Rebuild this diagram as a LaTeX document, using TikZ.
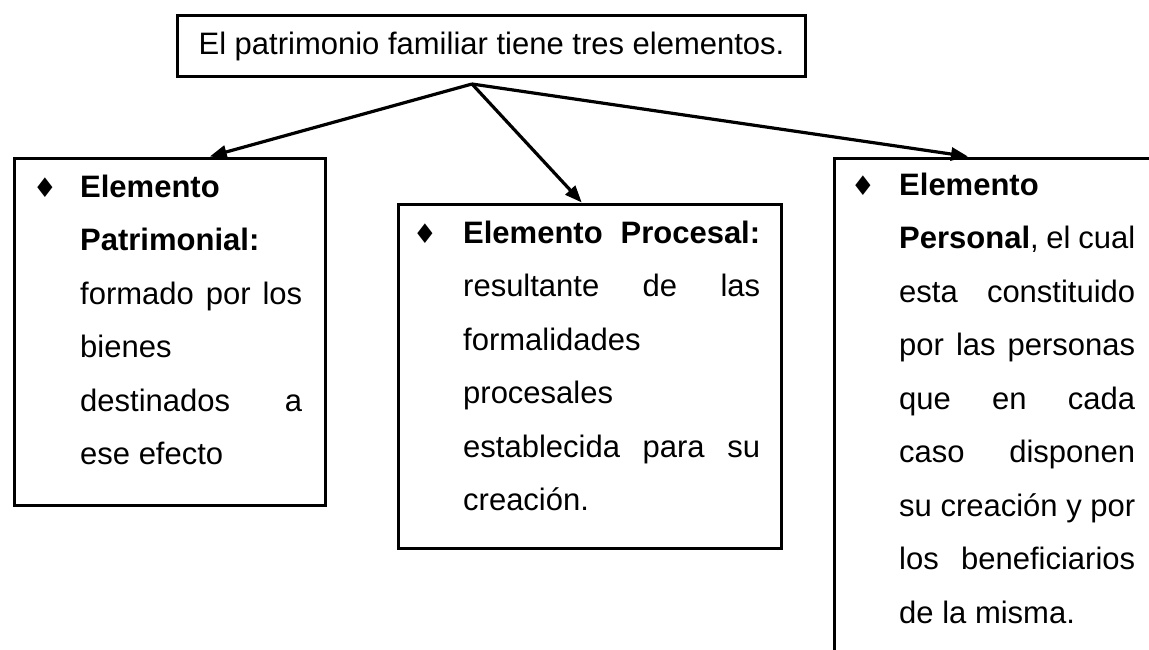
\documentclass[tikz,border=0pt]{standalone}
\usepackage{fontspec}
\setmainfont{Liberation Sans}
\newfontfamily\symfont{DejaVu Sans}
\usetikzlibrary{arrows.meta}
\newcommand\J[1]{\hbox to\linewidth{#1}}
\newcommand\Lf[1]{\hbox to\linewidth{#1\hfil}}
\newcommand\blk[2]{\parbox[t]{#1}{\fontsize{31pt}{53.5pt}\selectfont #2}}
\begin{document}
\begin{tikzpicture}[x=1pt,y=-1pt,
  box/.style={draw, line width=3.5pt, inner sep=0pt, anchor=north west},
  txt/.style={inner sep=0pt, anchor=base west},
  bul/.style={inner sep=0pt, anchor=base, font=\symfont\fontsize{27pt}{27pt}\selectfont},
  arr/.style={line width=3.2pt, -{Triangle[length=17pt,width=13pt]}}]
\useasboundingbox (0,0) rectangle (1149,649);
% boxes
\node[draw, line width=3.5pt, inner sep=0pt, minimum width=628pt, minimum height=61pt,
  font=\fontsize{31pt}{36pt}\selectfont] (top) at (491.5,46) {El patrimonio familiar tiene tres elementos.};
\node[box, minimum width=311pt, minimum height=347pt] (lb) at (12.5,156.5) {};
\node[box, minimum width=383pt, minimum height=344pt] (mb) at (396.5,202.5) {};
\node[box, minimum width=400pt, minimum height=600pt] (rb) at (832.5,156.5) {};
% connectors
\coordinate (apex) at (472,84);
\draw[arr] (apex) -- ([xshift=40pt]lb.north);
\draw[arr] (apex) -- ([xshift=-8pt]mb.north);
\draw[arr] (apex) -- ([xshift=135.5pt]rb.north west);
% bullets
\node[bul] (b1) at (45,197) {♦};
\node[bul] (b2) at (425,243) {♦};
\node[bul] (b3) at (863,195) {♦};
% texts
\node[txt] (lt) at (80,197) {\blk{222pt}{%
\Lf{\textbf{Elemento}}
\Lf{\textbf{Patrimonial:}}
\J{formado\hfill por\hfill los}
\Lf{bienes}
\J{destinados\hfill a}
\Lf{ese efecto}}};
\node[txt] (mt) at (463,243) {\blk{297pt}{%
\J{\textbf{Elemento\hfill Procesal:}}
\J{resultante\hfill de\hfill las}
\Lf{formalidades}
\Lf{procesales}
\J{establecida\hfill para\hfill su}
\Lf{creación.}}};
\node[txt] (rt) at (899,195) {\blk{236pt}{%
\Lf{\textbf{Elemento}}
\J{\textbf{Personal},\hfill el\hfill cual}
\J{esta\hfill constituido}
\J{por\hfill las\hfill personas}
\J{que\hfill en\hfill cada}
\J{caso\hfill disponen}
\J{su\hfill creación\hfill y\hfill por}
\J{los\hfill beneficiarios}
\Lf{de la misma.}}};
\end{tikzpicture}
\end{document}
